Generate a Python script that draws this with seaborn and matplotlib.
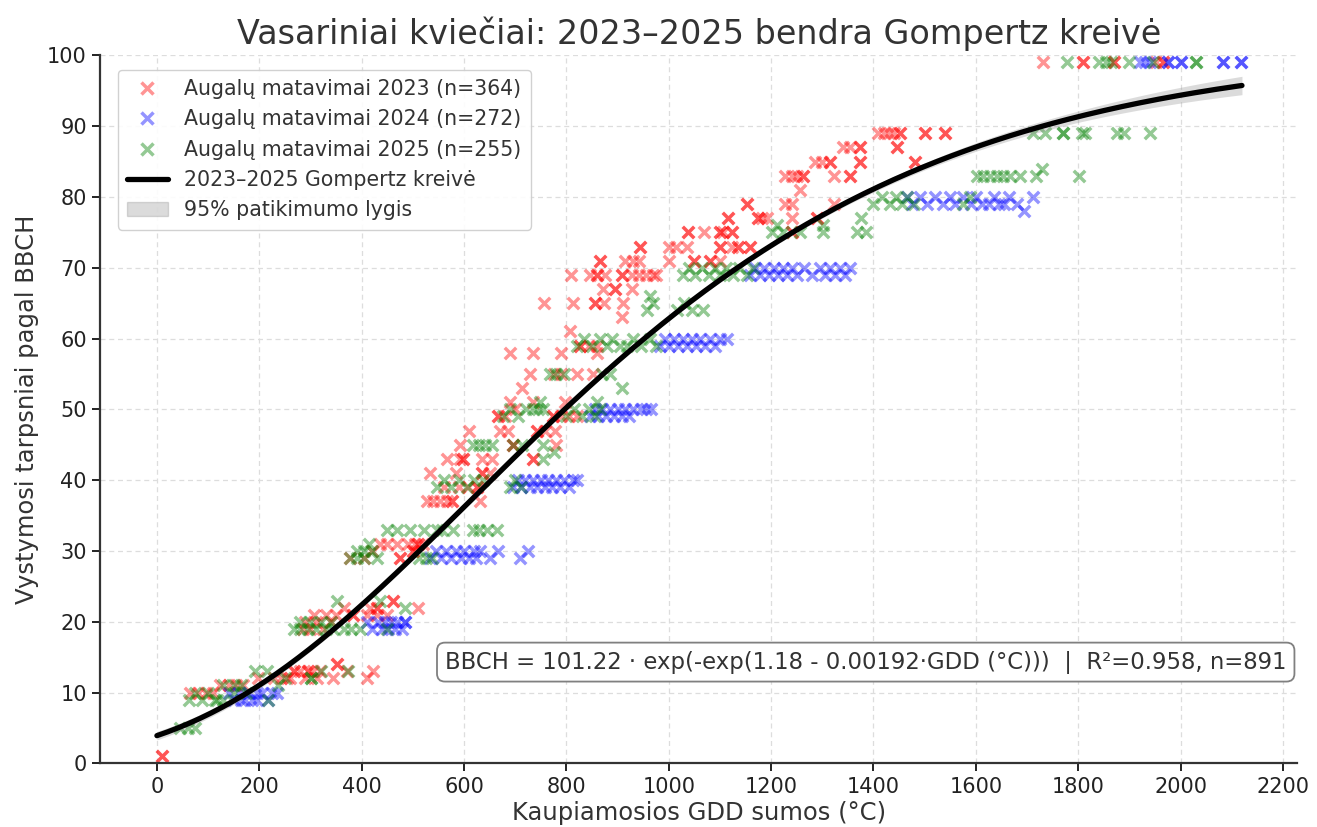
import numpy as np
import matplotlib
matplotlib.use("Agg")
import matplotlib.pyplot as plt
import seaborn as sns
from matplotlib.patches import Patch
from matplotlib.lines import Line2D

# ---------------- data ----------------
pts_2023 = [
    (10, 1), (10, 1),
    (65, 10), (80, 10), (95, 10), (110, 10),
    (124, 11), (140, 11), (155, 11), (169, 11),
    (198, 12), (228, 12), (242, 12), (254, 12), (260, 12), (290, 12), (312, 12),
    (267, 13), (267, 13), (280, 13), (295, 13), (295, 13), (305, 13), (319, 13),
    (345, 12), (351, 14), (351, 14), (371, 13), (410, 12), (423, 13),
    (286, 19), (300, 19), (325, 19), (290, 20), (310, 20), (340, 20),
    (306, 21), (330, 21), (350, 21), (365, 22), (384, 21), (384, 21),
    (416, 22), (430, 22), (430, 22), (410, 21), (430, 21), (449, 21),
    (462, 23), (462, 23), (511, 22),
    (377, 29), (405, 29), (420, 30), (436, 31), (450, 31), (470, 31),
    (475, 29), (475, 29), (490, 31), (500, 30), (500, 30), (505, 31),
    (511, 31), (511, 31), (520, 31),
    (527, 37), (540, 37), (553, 37), (566, 37), (576, 37), (576, 37), (631, 37),
    (560, 39), (590, 39), (608, 39), (625, 39), (625, 39),
    (533, 41), (585, 41), (635, 41), (635, 41), (651, 41),
    (566, 43), (593, 43), (598, 43), (598, 43), (636, 43), (655, 43), (735, 43), (735, 43),
    (592, 45), (696, 45), (696, 45), (779, 45),
    (609, 47), (670, 47), (686, 47), (742, 47), (742, 47), (758, 47), (778, 47),
    (667, 49), (667, 49), (680, 49), (700, 50), (774, 49), (774, 49), (790, 49), (805, 49), (820, 49),
    (690, 51), (735, 51), (797, 51), (713, 53), (729, 55), (775, 55), (790, 55), (821, 55), (853, 55),
    (690, 58), (735, 58), (790, 58), (860, 58),
    (827, 59), (827, 59), (845, 59), (860, 59), (807, 61),
    (908, 63), (757, 65), (812, 65), (855, 65), (855, 65), (874, 65), (910, 65),
    (872, 67), (895, 67), (895, 67), (928, 67),
    (810, 69), (846, 69), (860, 69), (860, 69), (875, 69), (908, 69), (908, 69), (928, 69),
    (941, 69), (955, 69), (969, 69), (975, 69),
    (866, 71), (866, 71), (915, 71), (930, 71), (941, 71), (1000, 71), (1049, 71), (1049, 71),
    (1081, 71), (1081, 71), (1100, 71),
    (944, 73), (944, 73), (1000, 73), (1015, 73), (1035, 73), (1100, 73), (1100, 73), (1123, 73),
    (1135, 73), (1135, 73), (1158, 73), (1158, 73),
    (1037, 75), (1037, 75), (1068, 75), (1100, 75), (1100, 75), (1106, 75), (1123, 75), (1123, 75),
    (1240, 75), (1240, 75),
    (1116, 77), (1116, 77), (1175, 77), (1175, 77), (1183, 77), (1192, 77), (1240, 77), (1289, 77), (1289, 77),
    (1152, 79), (1152, 79), (1227, 79), (1240, 79), (1322, 79), (1256, 81),
    (1227, 83), (1240, 83), (1250, 83), (1263, 83), (1263, 83), (1322, 83), (1354, 83), (1354, 83),
    (1286, 85), (1300, 85), (1315, 85), (1315, 85), (1373, 85), (1373, 85), (1481, 85), (1481, 85),
    (1340, 87), (1355, 87), (1373, 87), (1373, 87), (1446, 87), (1446, 87),
    (1409, 89), (1420, 89), (1430, 89), (1440, 89), (1452, 89), (1452, 89),
    (1500, 89), (1500, 89), (1539, 89), (1539, 89),
    (1731, 99), (1810, 99), (1810, 99), (1870, 99), (1870, 99), (1953, 99), (1966, 99), (1966, 99),
]

pts_2024 = [
    (140, 10), (150, 9), (160, 10), (165, 9), (172, 9), (180, 10), (185, 9), (195, 10),
    (195, 9), (205, 10), (218, 9), (225, 10), (234, 10),
    (410, 20), (420, 19), (432, 20), (440, 19), (445, 20), (452, 19), (458, 20), (465, 19),
    (470, 20), (478, 19), (485, 20), (485, 20),
    (533, 29), (545, 30), (555, 29), (565, 30), (575, 29), (585, 30), (595, 29), (600, 30),
    (610, 29), (620, 30), (624, 29), (631, 30), (651, 29), (667, 30), (709, 29), (725, 30),
    (696, 39), (705, 40), (712, 39), (720, 40), (728, 39), (735, 40), (742, 39), (750, 40),
    (758, 39), (765, 40), (772, 39), (780, 40), (788, 39), (795, 40), (805, 39), (812, 40), (821, 40),
    (846, 49), (855, 50), (862, 49), (870, 50), (878, 49), (886, 50), (893, 49), (900, 50),
    (908, 49), (915, 50), (922, 49), (930, 50), (945, 50), (955, 50), (965, 50),
    (983, 59), (992, 60), (1000, 59), (1010, 60), (1018, 59), (1027, 60), (1035, 59), (1045, 60),
    (1053, 59), (1061, 60), (1070, 59), (1080, 60), (1090, 59), (1100, 60), (1113, 60),
    (1159, 69), (1168, 70), (1178, 69), (1187, 70), (1195, 69), (1205, 70), (1214, 69), (1223, 70),
    (1232, 69), (1241, 70), (1250, 69), (1265, 70), (1280, 69), (1295, 70), (1305, 69), (1315, 70),
    (1325, 69), (1335, 70), (1345, 69), (1354, 70),
    (1465, 80), (1475, 79), (1490, 80), (1505, 79), (1520, 80), (1535, 79), (1550, 80), (1560, 79),
    (1575, 80), (1590, 79), (1600, 80), (1612, 79), (1625, 79), (1635, 80), (1645, 79), (1655, 79),
    (1665, 80), (1680, 79), (1695, 78), (1712, 80),
    (1920, 99), (1930, 99), (1940, 99), (1975, 99), (1975, 99), (2001, 99), (2001, 99),
    (2083, 99), (2083, 99), (2119, 99), (2119, 99),
]

pts_2025 = [
    (45, 5), (60, 5), (75, 5),
    (62, 9), (75, 10), (88, 9), (100, 10), (114, 9), (117, 9), (130, 9),
    (130, 11), (150, 11), (165, 11), (150, 10), (175, 10),
    (218, 9), (237, 11), (192, 13), (215, 13), (250, 12), (302, 12), (302, 12), (320, 13), (374, 13),
    (267, 19), (280, 19), (295, 19), (310, 19), (330, 19), (345, 19), (365, 19), (380, 19), (397, 19),
    (280, 20), (300, 20), (320, 20), (340, 20), (351, 23), (436, 23), (485, 22), (450, 19),
    (377, 29), (390, 29), (405, 29), (420, 30), (430, 29), (390, 30), (405, 30), (415, 31),
    (449, 33), (470, 33), (494, 33), (513, 29), (525, 29), (537, 29), (521, 33), (547, 33),
    (557, 33), (579, 33), (618, 33), (630, 33), (645, 33), (664, 33),
    (547, 39), (560, 40), (575, 39), (590, 40), (605, 39), (620, 40), (637, 40),
    (690, 39), (700, 40), (712, 39),
    (618, 45), (630, 45), (642, 45), (655, 45), (696, 45), (714, 45), (755, 45), (755, 43), (775, 44),
    (676, 49), (690, 50), (705, 49), (722, 50), (735, 50), (745, 50), (755, 50), (749, 51),
    (800, 49), (815, 50), (830, 49), (845, 50), (855, 49), (866, 50), (860, 51),
    (908, 53), (768, 55), (780, 55), (795, 55), (870, 55), (886, 55),
    (820, 59), (835, 60), (850, 59), (865, 60), (880, 59), (890, 60), (905, 59), (918, 59),
    (930, 60), (945, 59), (963, 60), (975, 59),
    (957, 64), (963, 66), (969, 65), (1016, 64), (1030, 65), (1045, 64), (1067, 64),
    (1028, 69), (1040, 70), (1052, 69), (1065, 70), (1078, 69), (1090, 70), (1100, 69), (1112, 70),
    (1125, 69), (1137, 70), (1153, 69), (1165, 70),
    (1202, 75), (1212, 76), (1223, 75), (1256, 75), (1302, 75), (1302, 76), (1367, 75), (1375, 77), (1386, 75),
    (1400, 79), (1416, 80), (1432, 79), (1445, 80), (1455, 79), (1465, 80), (1480, 79), (1575, 79), (1588, 80),
    (1602, 83), (1615, 83), (1628, 83), (1641, 83), (1654, 83), (1667, 83), (1686, 83),
    (1717, 83), (1730, 84), (1802, 83),
    (1712, 89), (1735, 89), (1771, 89), (1771, 89), (1807, 89), (1813, 89), (1875, 89), (1890, 89), (1940, 89),
    (1778, 99), (1840, 99), (1855, 99), (1865, 99), (1900, 99), (1946, 99), (2030, 99), (2030, 99),
]

# Gompertz model parameters (from the annotation)
gomp_a, gomp_b, gomp_c = 101.22, 1.18, 0.00192
gdd_max = 2120
# 95% band half-width read at a few GDD points
ci_gdd = [0, 300, 600, 900, 1200, 1500, 1800, 2120]
ci_half = [0.6, 0.4, 0.3, 0.3, 0.35, 0.5, 0.8, 1.3]

legend_labels = [
    "Augalų matavimai 2023 (n=364)",
    "Augalų matavimai 2024 (n=272)",
    "Augalų matavimai 2025 (n=255)",
    "2023–2025 Gompertz kreivė",
    "95% patikimumo lygis",
]
title = "Vasariniai kviečiai: 2023–2025 bendra Gompertz kreivė"
xlabel = "Kaupiamosios GDD sumos (°C)"
ylabel = "Vystymosi tarpsniai pagal BBCH"
eq_text = "BBCH = 101.22 · exp(-exp(1.18 - 0.00192·GDD (°C)))  |  R²=0.958, n=891"

# ---------------- plotting ----------------
sns.set_theme(style="ticks")
plt.rcParams["font.family"] = ["DejaVu Sans"]

fig, ax = plt.subplots(figsize=(13.17, 8.27), dpi=100)

series = [(pts_2023, "red"), (pts_2024, "blue"), (pts_2025, "green")]
for pts, col in series:
    g = [p[0] for p in pts]
    b = [p[1] for p in pts]
    sns.scatterplot(x=g, y=b, ax=ax, marker="x", color=col, alpha=0.42,
                    s=68, linewidth=2.5, legend=False, zorder=2)

gx = np.linspace(0, gdd_max, 300)
gy = gomp_a * np.exp(-np.exp(gomp_b - gomp_c * gx))
ci_x = np.array(ci_gdd, dtype=float)
ci_h = np.interp(gx, ci_x, ci_half)
ax.fill_between(gx, gy - ci_h, gy + ci_h, color="gray", alpha=0.28, lw=0, zorder=3)
sns.lineplot(x=gx, y=gy, ax=ax, color="black", lw=3.8, zorder=4)

ax.set_xlim(-111, 2228)
ax.set_ylim(0, 100)
ax.set_xticks(np.arange(0, 2201, 200))
ax.set_yticks(np.arange(0, 101, 10))
ax.grid(True, linestyle=(0, (4, 3)), color="#dddddd", linewidth=0.9)
ax.set_axisbelow(True)
for s in ["top", "right"]:
    ax.spines[s].set_visible(False)
for s in ["left", "bottom"]:
    ax.spines[s].set_color("#333333")
    ax.spines[s].set_linewidth(1.6)
ax.tick_params(axis="both", labelsize=15, colors="#222222", length=6, width=1.4)

ax.set_title(title, fontsize=24, color="#333333", pad=8)
ax.set_xlabel(xlabel, fontsize=17.5, color="#333333", labelpad=3)
ax.set_ylabel(ylabel, fontsize=17.5, color="#333333", labelpad=6)

handles = [
    Line2D([], [], marker="x", ls="", color="red", alpha=0.42, markersize=8.5, markeredgewidth=2.5),
    Line2D([], [], marker="x", ls="", color="blue", alpha=0.42, markersize=8.5, markeredgewidth=2.5),
    Line2D([], [], marker="x", ls="", color="green", alpha=0.42, markersize=8.5, markeredgewidth=2.5),
    Line2D([], [], color="black", lw=3.8),
    Patch(facecolor="gray", alpha=0.28, edgecolor="gray"),
]
leg = ax.legend(handles, legend_labels, loc="upper left", fontsize=14.8,
                frameon=True, fancybox=True, framealpha=0.9, borderpad=0.45,
                labelspacing=0.5, handlelength=2.0, handletextpad=0.8,
                bbox_to_anchor=(0.006, 0.994))
leg.get_frame().set_edgecolor("#cccccc")
for t in leg.get_texts():
    t.set_color("#333333")

ax.text(0.991, 0.143, eq_text, transform=ax.transAxes, ha="right", va="center",
        fontsize=16.4, color="#333333",
        bbox=dict(boxstyle="round,pad=0.35", facecolor="white", edgecolor="gray", linewidth=1.3))

fig.subplots_adjust(left=0.076, right=0.985, top=0.933, bottom=0.077)
fig.savefig("out.png", dpi=100)
